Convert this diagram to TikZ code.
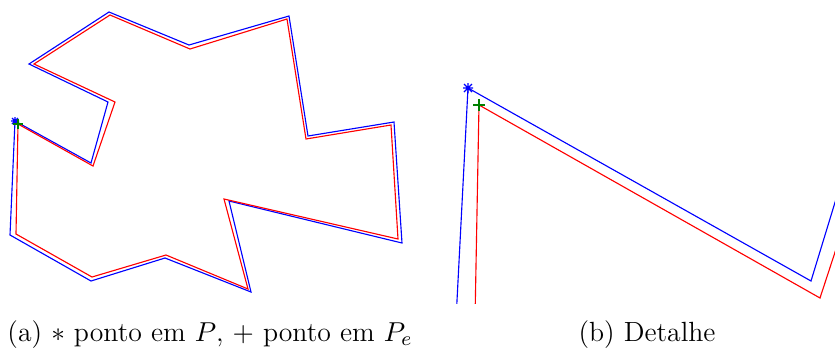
\documentclass[tikz,border=0pt]{standalone}
\usepackage{amsmath,amssymb}
\usepackage{tikz}
\usetikzlibrary{positioning,calc}
\definecolor{polyblue}{RGB}{0,0,255}
\definecolor{polyred}{RGB}{255,0,0}
\definecolor{markgreen}{RGB}{0,128,0}
\begin{document}
\begin{tikzpicture}[x=0.4pt,y=-0.4pt,
    orig/.style={draw=polyblue,line width=0.45pt,line join=miter},
    offs/.style={draw=polyred,line width=0.45pt,line join=miter},
    caption/.style={anchor=base,font=\fontsize{11.1pt}{13pt}\selectfont,inner sep=0pt}]
    \useasboundingbox (0,0) rectangle (835,348);
    % (a) polygon P and offset polygon Pe
    \draw[orig] (15,121) -- (91,163) -- (108,102) -- (29,64) -- (109,12) -- (189,45)
      -- (289,16) -- (308,136) -- (394,122) -- (402,243) -- (229,201) -- (251,292)
      -- (165,258) -- (91,281) -- (10,235) -- cycle;
    \draw[offs] (18,124) -- (93,166) -- (115,102) -- (34,64) -- (110,15) -- (190,49)
      -- (287,19) -- (306,139) -- (391,125) -- (398,239) -- (224,199) -- (248,289)
      -- (166,255) -- (92,277) -- (16,234) -- cycle;
    \coordinate (pa) at (15,121);
    \coordinate (qa) at (18,124);
    \draw[polyblue,line width=0.45pt] ($(pa)+(-4,0)$) -- ($(pa)+(4,0)$) ($(pa)+(0,-4)$) -- ($(pa)+(0,4)$)
      ($(pa)+(-3,-3)$) -- ($(pa)+(3,3)$) ($(pa)+(-3,3)$) -- ($(pa)+(3,-3)$);
    \draw[markgreen,line width=0.45pt] ($(qa)+(-5,0)$) -- ($(qa)+(5,0)$) ($(qa)+(0,-5)$) -- ($(qa)+(0,5)$);
    % (b) detail near the first vertex
    \begin{scope}
      \clip (440,0) rectangle (835,303);
      \draw[orig] (456,320) -- (468,88) -- (811,281) -- (840,186);
      \draw[offs] (475,320) -- (479,105) -- (820,298) -- (840,237);
      \coordinate (pb) at (468,88);
      \coordinate (qb) at (479,105);
      \draw[polyblue,line width=0.45pt] ($(pb)+(-5,0)$) -- ($(pb)+(5,0)$) ($(pb)+(0,-5)$) -- ($(pb)+(0,5)$)
        ($(pb)+(-4,-4)$) -- ($(pb)+(4,4)$) ($(pb)+(-4,4)$) -- ($(pb)+(4,-4)$);
      \draw[markgreen,line width=0.45pt] ($(qb)+(-6,0)$) -- ($(qb)+(6,0)$) ($(qb)+(0,-6)$) -- ($(qb)+(0,6)$);
    \end{scope}
    % captions
    \node[caption] (capa) at (210,341) {(a) $*$ ponto em $P$, $+$ ponto em $P_e$};
    \node[caption] (capb) at (647,341) {(b) Detalhe};
  \end{tikzpicture}
\end{document}
